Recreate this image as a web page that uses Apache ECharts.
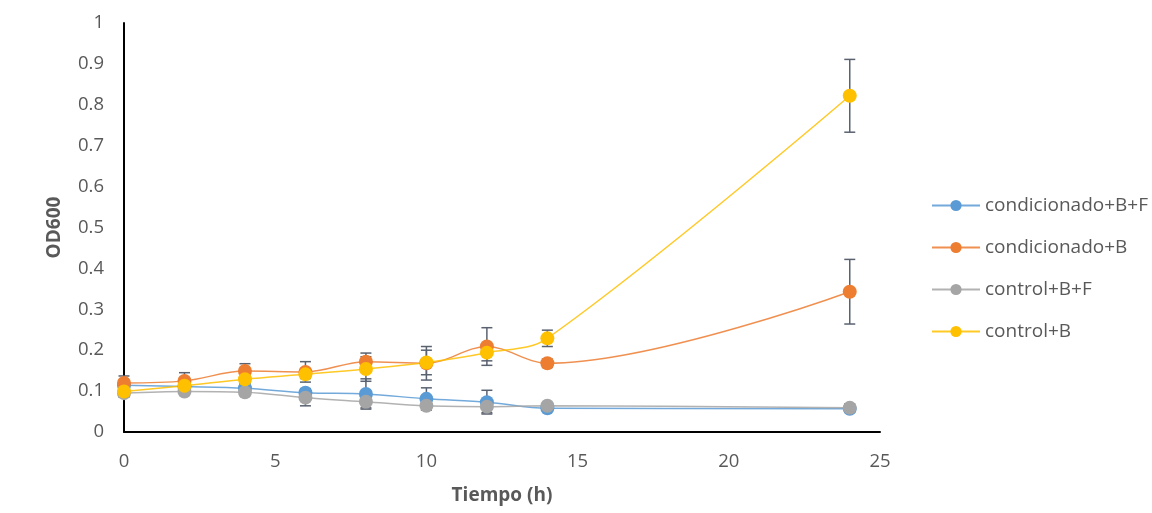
<!DOCTYPE html>
<html>
<head>
<meta charset="utf-8">
<script src="https://cdn.jsdelivr.net/npm/echarts@6/dist/echarts.min.js"></script>
<style>
  html, body { margin: 0; padding: 0; background: #fff; }
  #chart { width: 1152px; height: 513px; }
</style>
</head>
<body>
<div id="chart"></div>
<script>
// tiempo (h)
const times = [0, 2, 4, 6, 8, 10, 12, 14, 24];
const seriesNames = ['condicionado+B+F', 'condicionado+B', 'control+B+F', 'control+B'];
const condBF = [0.114, 0.111, 0.107, 0.096, 0.093, 0.081, 0.073, 0.058, 0.057];
const condB  = [0.120, 0.125, 0.149, 0.147, 0.172, 0.168, 0.209, 0.168, 0.343];
const ctrlBF = [0.095, 0.099, 0.097, 0.084, 0.074, 0.064, 0.062, 0.064, 0.059];
const ctrlB  = [0.099, 0.113, 0.129, 0.141, 0.154, 0.170, 0.194, 0.229, 0.822];
// error bars (+/-)
const condBFErr = [0.010, 0.010, 0.010, 0.010, 0.037, 0.027, 0.029, 0.005, 0.008];
const condBErr  = [0.017, 0.020, 0.018, 0.025, 0.021, 0.041, 0.046, 0.010, 0.079];
const ctrlBFErr = [0.010, 0.008, 0.008, 0.020, 0.015, 0.010, 0.015, 0.005, 0.010];
const ctrlBErr  = [0.010, 0.010, 0.010, 0.010, 0.030, 0.030, 0.020, 0.020, 0.089];

const colors = ['#5B9BD5', '#ED7D31', '#A5A5A5', '#FFC000'];
const values = [condBF, condB, ctrlBF, ctrlB];
const errs = [condBFErr, condBErr, ctrlBFErr, ctrlBErr];

const chart = echarts.init(document.getElementById('chart'));

let series = [];
values.forEach((vals, i) => {
  series.push({
    name: seriesNames[i],
    type: 'line',
    smooth: 0.35,
    symbol: 'circle',
    symbolSize: 14,
    z: 3,
    itemStyle: { color: colors[i] },
    lineStyle: { color: colors[i], width: 1.5, opacity: 0.85 },
    data: times.map((t, k) => [t, vals[k]])
  });
});
// barras de error
values.forEach((vals, i) => {
  series.push({
    type: 'custom',
    z: 2,
    silent: true,
    data: times.map((t, k) => [t, vals[k] - errs[i][k], vals[k] + errs[i][k]]),
    renderItem: function (params, api) {
      const x = api.value(0);
      const top = api.coord([x, api.value(2)]);
      const bot = api.coord([x, api.value(1)]);
      const hw = 5.5;
      const st = { stroke: '#5a6270', lineWidth: 1.5 };
      return {
        type: 'group',
        children: [
          { type: 'line', shape: { x1: top[0], y1: top[1], x2: bot[0], y2: bot[1] }, style: st },
          { type: 'line', shape: { x1: top[0] - hw, y1: top[1], x2: top[0] + hw, y2: top[1] }, style: st },
          { type: 'line', shape: { x1: bot[0] - hw, y1: bot[1], x2: bot[0] + hw, y2: bot[1] }, style: st }
        ]
      };
    }
  });
});

const font = 'Open Sans';
const labelStyle = { color: '#595959', fontSize: 18.5, fontFamily: font };
const nameStyle = { color: '#595959', fontSize: 19, fontWeight: 'bold', fontFamily: font };

chart.setOption({
  animation: false,
  backgroundColor: '#fff',
  textStyle: { fontFamily: font },
  grid: { left: 124, right: 272, top: 23, bottom: 81 },
  legend: {
    data: seriesNames,
    orient: 'vertical',
    left: 931,
    top: 196,
    padding: 0,
    itemWidth: 48,
    itemHeight: 14,
    itemGap: 23,
    textStyle: { color: '#595959', fontSize: 19, fontFamily: font }
  },
  xAxis: {
    type: 'value',
    min: 0,
    max: 25,
    interval: 5,
    name: 'Tiempo (h)',
    nameLocation: 'middle',
    nameGap: 54,
    nameTextStyle: nameStyle,
    axisLine: { lineStyle: { color: '#000', width: 2 } },
    axisTick: { show: false },
    splitLine: { show: false },
    axisLabel: Object.assign({ margin: 20 }, labelStyle)
  },
  yAxis: {
    type: 'value',
    min: 0,
    max: 1,
    interval: 0.1,
    name: 'OD600',
    nameLocation: 'middle',
    nameGap: 60,
    nameTextStyle: nameStyle,
    axisLine: { show: true, lineStyle: { color: '#000', width: 2 } },
    axisTick: { show: false },
    splitLine: { show: false },
    axisLabel: Object.assign({ margin: 20 }, labelStyle)
  },
  series: series
});
</script>
</body>
</html>
